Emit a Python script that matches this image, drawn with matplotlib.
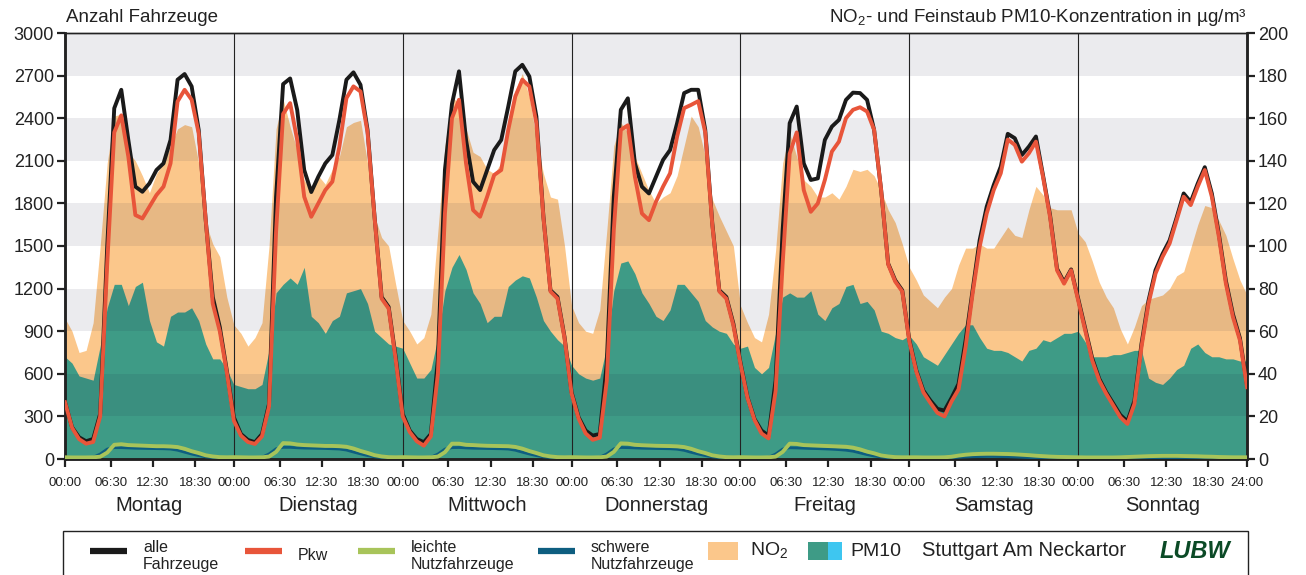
# Wochengang Verkehr und Luftschadstoffe, Stuttgart Am Neckartor

import numpy as np
import matplotlib.pyplot as plt
from matplotlib.lines import Line2D
from matplotlib.patches import Rectangle

plt.rcParams['font.family'] = ['Liberation Sans', 'DejaVu Sans']

days = ['Montag', 'Dienstag', 'Mittwoch', 'Donnerstag', 'Freitag', 'Samstag', 'Sonntag']
tick_names = ['00:00', '06:30', '12:30', '18:30']

# hourly values Mo 00:00 ... So 23:00 (one row per day), last value = So 24:00
alle = [400, 224, 153, 125, 141, 318, 1494, 2470, 2600, 2247, 1918, 1882, 1941, 2035, 2082, 2247, 2671, 2711, 2624, 2318, 1682, 1141, 929, 623,
        294, 176, 134, 118, 176, 388, 1847, 2640, 2680, 2459, 2035, 1880, 1988, 2082, 2141, 2388, 2671, 2723, 2635, 2318, 1706, 1141, 1071, 718,
        318, 200, 141, 118, 176, 700, 2035, 2500, 2730, 2247, 1953, 1894, 2035, 2176, 2247, 2482, 2730, 2776, 2694, 2412, 1706, 1188, 1141, 859,
        470, 294, 200, 165, 176, 670, 1847, 2459, 2540, 2082, 1918, 1870, 1988, 2106, 2176, 2365, 2577, 2600, 2600, 2318, 1659, 1188, 1141, 953,
        680, 435, 282, 200, 165, 553, 1612, 2365, 2482, 2082, 1965, 1976, 2247, 2341, 2388, 2529, 2580, 2577, 2529, 2318, 1894, 1376, 1259, 1188,
        840, 623, 482, 412, 353, 341, 430, 529, 835, 1188, 1541, 1776, 1929, 2059, 2290, 2259, 2141, 2200, 2271, 2000, 1720, 1340, 1245, 1335,
        1130, 920, 710, 565, 470, 390, 310, 265, 410, 810, 1115, 1330, 1445, 1540, 1700, 1870, 1810, 1940, 2055, 1870, 1585, 1255, 1020, 850,
        520]
pkw = [400, 220, 140, 108, 120, 300, 1376, 2300, 2420, 2130, 1718, 1694, 1776, 1859, 1918, 2082, 2518, 2600, 2530, 2294, 1682, 1094, 900, 610,
       270, 165, 120, 106, 160, 370, 1600, 2430, 2506, 2247, 1847, 1706, 1800, 1894, 1953, 2200, 2541, 2624, 2588, 2300, 1700, 1130, 1060, 700,
       300, 190, 125, 94, 160, 600, 1729, 2400, 2530, 2082, 1753, 1706, 1847, 2000, 2035, 2318, 2553, 2671, 2624, 2365, 1700, 1180, 1130, 850,
       460, 285, 180, 135, 150, 550, 1612, 2318, 2350, 1988, 1729, 1682, 1812, 1918, 2012, 2271, 2471, 2494, 2520, 2300, 1650, 1180, 1130, 940,
       670, 430, 275, 180, 145, 480, 1376, 2150, 2300, 1894, 1741, 1800, 1965, 2165, 2235, 2400, 2459, 2477, 2447, 2318, 1894, 1370, 1250, 1180,
       830, 615, 470, 395, 325, 300, 405, 490, 788, 1165, 1494, 1729, 1894, 2012, 2250, 2212, 2094, 2153, 2235, 1988, 1706, 1329, 1235, 1329,
       1118, 906, 694, 553, 459, 376, 294, 247, 388, 788, 1094, 1306, 1424, 1518, 1682, 1847, 1788, 1918, 2035, 1847, 1565, 1235, 1000, 835,
       506]
leichte = [12, 11, 11, 11, 12, 16, 45, 100, 104, 98, 96, 94, 92, 90, 90, 88, 84, 72, 55, 42, 26, 18, 13, 12,
           13, 12, 11, 11, 12, 17, 50, 112, 110, 102, 98, 96, 94, 92, 92, 90, 86, 74, 57, 43, 27, 18, 13, 12,
           13, 12, 11, 11, 12, 17, 48, 108, 108, 100, 98, 95, 93, 92, 91, 90, 85, 73, 56, 42, 26, 18, 13, 12,
           13, 12, 11, 11, 12, 17, 50, 110, 108, 100, 97, 95, 93, 92, 91, 89, 84, 72, 55, 42, 26, 18, 13, 12,
           13, 12, 11, 11, 12, 17, 50, 108, 106, 98, 96, 94, 92, 90, 88, 86, 80, 68, 52, 40, 25, 18, 13, 12,
           12, 12, 11, 11, 11, 12, 16, 24, 30, 34, 36, 37, 37, 36, 35, 33, 30, 27, 23, 20, 17, 15, 14, 13,
           12, 11, 11, 11, 11, 11, 12, 14, 16, 18, 20, 21, 22, 22, 22, 21, 20, 19, 17, 16, 14, 13, 12, 12,
           12]
schwere = [5, 5, 5, 6, 12, 35, 70, 80, 80, 78, 76, 75, 74, 73, 72, 70, 62, 48, 35, 24, 15, 10, 8, 6,
           6, 5, 5, 6, 12, 36, 72, 82, 82, 79, 77, 76, 75, 74, 72, 70, 63, 49, 36, 24, 15, 10, 8, 6,
           6, 5, 5, 6, 12, 35, 70, 80, 81, 78, 76, 75, 74, 73, 72, 70, 62, 48, 35, 24, 15, 10, 8, 6,
           6, 5, 5, 6, 12, 36, 71, 81, 80, 78, 76, 75, 74, 73, 72, 69, 61, 47, 35, 24, 15, 10, 8, 6,
           6, 5, 5, 6, 12, 35, 70, 79, 78, 76, 74, 73, 71, 69, 66, 62, 55, 43, 31, 21, 14, 9, 7, 6,
           5, 5, 4, 4, 5, 7, 9, 12, 14, 16, 17, 18, 18, 17, 16, 14, 12, 10, 8, 7, 6, 5, 5, 5,
           4, 4, 4, 4, 4, 4, 5, 5, 6, 6, 6, 7, 7, 7, 6, 6, 6, 5, 5, 5, 4, 4, 4, 4,
           4]
no2 = [66, 60, 50, 51, 64, 100, 139, 161, 162, 144, 140, 133, 125, 134, 139, 147, 155, 157, 156, 139, 111, 101, 95, 76,
       63, 59, 53, 57, 64, 100, 155, 169, 156, 145, 131, 126, 133, 129, 136, 142, 156, 158, 159, 139, 114, 104, 100, 82,
       65, 60, 54, 57, 68, 107, 147, 170, 167, 155, 144, 142, 136, 134, 139, 158, 173, 181, 170, 150, 134, 123, 122, 100,
       72, 64, 60, 59, 70, 107, 147, 158, 153, 142, 134, 126, 120, 123, 125, 133, 147, 161, 156, 142, 122, 114, 107, 100,
       72, 64, 57, 55, 68, 98, 139, 153, 142, 131, 128, 123, 123, 125, 122, 128, 136, 135, 136, 133, 126, 117, 111, 101,
       90, 84, 77, 74, 71, 76, 80, 91, 99, 99, 101, 99, 99, 104, 109, 105, 104, 117, 128, 124, 118, 117, 117, 117,
       106, 102, 93, 83, 76, 71, 61, 54, 62, 72, 75, 76, 77, 80, 86, 88, 99, 110, 119, 118, 112, 105, 94, 84,
       77]
pm10 = [48, 45, 39, 38, 37, 53, 71, 82, 82, 72, 81, 83, 65, 55, 53, 67, 69, 69, 71, 65, 54, 47, 47, 42,
        35, 34, 33, 33, 35, 51, 78, 82, 85, 82, 90, 67, 64, 59, 65, 67, 78, 79, 80, 73, 60, 57, 54, 53,
        52, 45, 38, 38, 42, 57, 79, 90, 96, 89, 78, 73, 64, 67, 67, 81, 84, 86, 85, 76, 65, 60, 56, 53,
        44, 40, 38, 37, 38, 53, 79, 92, 93, 87, 78, 73, 67, 65, 70, 82, 82, 78, 74, 65, 62, 60, 59, 54,
        52, 53, 43, 40, 43, 59, 76, 78, 76, 76, 79, 68, 65, 71, 73, 81, 82, 73, 74, 70, 60, 59, 57, 56,
        58, 54, 48, 46, 44, 49, 54, 59, 63, 63, 57, 52, 51, 51, 50, 48, 46, 51, 52, 56, 55, 57, 59, 59,
        60, 55, 48, 48, 48, 49, 49, 50, 51, 51, 38, 36, 35, 38, 42, 44, 52, 54, 50, 48, 48, 47, 47, 46,
        46]

hours = np.arange(len(alle))

c_no2 = '#fbc78b'
c_pm10 = '#3e9b86'
c_alle = '#1a1a1a'
c_pkw = '#e8553a'
c_leicht = '#a8c45a'
c_schwer = '#0e5e80'

W, H = 1306, 575
fig = plt.figure(figsize=(W / 100, H / 100), dpi=100)
ax = fig.add_axes([65 / W, 116 / H, 1182 / W, 426 / H])
ax2 = ax.twinx()
ax.set_zorder(ax2.get_zorder() + 1)
ax.patch.set_visible(False)

# concentrations on the right axis (drawn below)
ax2.fill_between(hours, 0, no2, color=c_no2, lw=0)
ax2.fill_between(hours, 0, pm10, color=c_pm10, lw=0)
ax2.set_ylim(0, 200)

# grey bands laid over the areas
for lo in range(300, 3000, 600):
    ax.axhspan(lo, lo + 300, color='#1a1a40', alpha=0.085, lw=0, zorder=1)
for d in range(1, 7):
    ax.axvline(d * 24, color='#222222', lw=0.8, zorder=2)

ax.plot(hours, schwere, color=c_schwer, lw=2.0, zorder=3, solid_joinstyle='round')
ax.plot(hours, leichte, color=c_leicht, lw=2.8, zorder=4, solid_joinstyle='round')
ax.plot(hours, alle, color=c_alle, lw=2.8, zorder=5, solid_joinstyle='round')
ax.plot(hours, pkw, color=c_pkw, lw=2.8, zorder=6, solid_joinstyle='round')

ax.set_xlim(0, 168)
ax.set_ylim(0, 3000)
ax.set_yticks(range(0, 3001, 300))
ax2.set_yticks(range(0, 201, 20))

xt = []
xl = []
for d in range(7):
    for t, name in zip([0, 6.5, 12.5, 18.5], tick_names):
        xt.append(d * 24 + t)
        xl.append(name)
xt.append(168)
xl.append('24:00')
ax.set_xticks(xt)
ax.set_xticklabels(xl, fontsize=9.5)
for d, name in enumerate(days):
    ax.text(d * 24 + 12, -0.108, name, transform=ax.get_xaxis_transform(),
            ha='center', va='center', fontsize=14.5, color='#222222')

for a in (ax, ax2):
    for s in a.spines.values():
        s.set_color('#222222')
        s.set_linewidth(1.8)
    a.spines['top'].set_linewidth(1.0)
ax.tick_params(axis='y', labelsize=13, length=6, width=1.6, pad=2, colors='#222222')
ax2.tick_params(axis='y', labelsize=13, length=6, width=1.6, pad=2, colors='#222222')
ax.tick_params(axis='x', length=6, width=1.6, pad=7, colors='#222222')

fig.text(66 / W, 1 - 18 / H, 'Anzahl Fahrzeuge', fontsize=13.5, va='center', color='#222222')
fig.text(1247 / W, 1 - 18 / H, r'NO$_\mathregular{2}$- und Feinstaub PM10-Konzentration in µg/m³',
         fontsize=13.5, va='center', ha='right', color='#222222')

# legend box
fig.add_artist(Rectangle((63 / W, -0.05), (1248 - 63) / W, 0.05 + (575 - 531) / H,
                         transform=fig.transFigure, fill=False, lw=1.0, ec='#222222'))
ly = 1 - 551 / H
for x0, col, label in [(90, c_alle, 'alle\nFahrzeuge'), (245, c_pkw, 'Pkw'),
                       (358, c_leicht, 'leichte\nNutzfahrzeuge'), (538, c_schwer, 'schwere\nNutzfahrzeuge')]:
    fig.add_artist(Line2D([x0 / W, (x0 + 37) / W], [ly, ly], color=col, lw=4.5,
                          transform=fig.transFigure, solid_capstyle='butt'))
    fig.text((x0 + 53) / W, 1 - 556 / H, label, fontsize=11.5, va='center', linespacing=1.1,
             color='#222222')
fig.add_artist(Rectangle((708 / W, 1 - 560 / H), 30 / W, 18 / H, transform=fig.transFigure,
                         color=c_no2, lw=0))
fig.text(750 / W, ly, r'NO$_\mathregular{2}$', fontsize=14, va='center', color='#222222')
fig.add_artist(Rectangle((808 / W, 1 - 560 / H), 20 / W, 18 / H, transform=fig.transFigure,
                         color=c_pm10, lw=0))
fig.add_artist(Rectangle((828 / W, 1 - 560 / H), 14 / W, 18 / H, transform=fig.transFigure,
                         color='#3ec6f0', lw=0))
fig.text(850 / W, ly, 'PM10', fontsize=14, va='center', color='#222222')
fig.text(922 / W, ly, 'Stuttgart Am Neckartor', fontsize=14.5, va='center', color='#222222')
fig.text(1160 / W, ly, 'LUBW', fontsize=17, va='center', color='#0b4a26',
         fontweight='bold', fontstyle='italic')

fig.savefig('out.png', dpi=100)
